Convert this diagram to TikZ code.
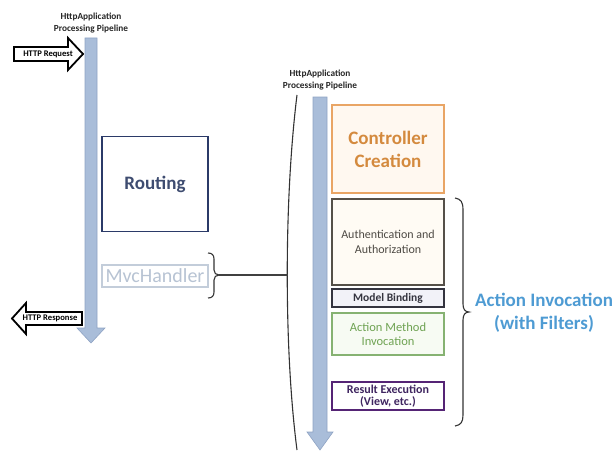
\documentclass[tikz,border=0pt]{standalone}
\usepackage{fontspec}
\setmainfont{Carlito}
\definecolor{pipefill}{HTML}{A9BDD9}
\definecolor{pipeedge}{HTML}{8FA3C3}
\definecolor{routingedge}{HTML}{2B3A68}
\definecolor{routingtext}{HTML}{3E4C70}
\definecolor{mvcedge}{HTML}{C3CDDA}
\definecolor{mvctext}{HTML}{B7C3D3}
\definecolor{ctrledge}{HTML}{E9A565}
\definecolor{ctrlfill}{HTML}{FFF8F0}
\definecolor{ctrltext}{HTML}{D48A3E}
\definecolor{authedge}{HTML}{555048}
\definecolor{authfill}{HTML}{FFFBF4}
\definecolor{authtext}{HTML}{4E4A44}
\definecolor{modeledge}{HTML}{34343F}
\definecolor{modelfill}{HTML}{F2F2F8}
\definecolor{actedge}{HTML}{86B272}
\definecolor{actfill}{HTML}{F7FBF3}
\definecolor{acttext}{HTML}{6FA353}
\definecolor{resedge}{HTML}{552475}
\definecolor{restext}{HTML}{3F2560}
\definecolor{invtext}{HTML}{4E9BD3}
\begin{document}
\begin{tikzpicture}[x=1pt,y=-1pt,
  pipe/.style={fill=pipefill, draw=pipeedge, line width=0.6pt},
  blockarrow/.style={fill=white, draw=black, line width=1.8pt, line join=miter},
  box/.style={draw, line width=1.4pt, minimum width=112pt, align=center, inner sep=1pt},
  pipelabel/.style={font=\bfseries\fontsize{9.3}{12}\selectfont, align=center, text=black!85},
  bracestyle/.style={draw=black!80, line width=1.1pt},
]
\useasboundingbox (0,0) rectangle (616,452);

% left pipeline
\draw[pipe] (85,38) -- (97,38) -- (97,328) -- (105,328) -- (91,343) -- (77,328) -- (85,328) -- cycle;
\node[pipelabel] (lplabel) at (91,23) {HttpApplication\\Processing Pipeline};

% HTTP request / response block arrows
\draw[blockarrow] (14,47) -- (68,47) -- (68,38) -- (83,54) -- (68,70) -- (68,61) -- (14,61) -- cycle;
\node[font=\bfseries\fontsize{8.6}{9}\selectfont, inner sep=0pt] (req) at (48,54) {HTTP Request};
\draw[blockarrow] (82,312) -- (26,312) -- (26,303) -- (12,318.5) -- (26,334) -- (26,325) -- (82,325) -- cycle;
\node[font=\bfseries\fontsize{8.6}{9}\selectfont, inner sep=0pt] (resp) at (50,318.5) {HTTP Response};

% Routing and MvcHandler
\node[box, draw=routingedge, text=routingtext, line width=1.8pt, minimum width=106pt, minimum height=95pt,
      font=\bfseries\fontsize{19}{22}\selectfont] (routing) at (155,184) {Routing};
\node[box, draw=mvcedge, text=mvctext, minimum width=106pt, minimum height=22pt,
      font=\fontsize{20}{22}\selectfont] (mvc) at (155,276) {MvcHandler};

% MvcHandler brace
\draw[bracestyle] (208,253) .. controls (212,253) and (214,255) .. (214,259) -- (214,270)
   .. controls (214,273) and (216,275) .. (219,275)
   .. controls (216,275) and (214,277) .. (214,280) -- (214,292)
   .. controls (214,296) and (212,298) .. (208,298);
\coordinate (mvctip) at (219,275);

% big parenthesis
\draw[bracestyle] (297,95) .. controls (284,200) and (284,350) .. (297,450);
\coordinate (parenmid) at (288,275);
\draw[black!75, line width=1.1pt] (mvctip) -- (parenmid);

% right pipeline
\draw[pipe] (313,97) -- (327,97) -- (327,432) -- (333,432) -- (320,450) -- (307,432) -- (313,432) -- cycle;
\node[pipelabel] (rplabel) at (320,80) {HttpApplication\\Processing Pipeline};

% stage boxes
\node[box, draw=ctrledge, fill=ctrlfill, text=ctrltext, minimum height=88pt,
      font=\bfseries\fontsize{19}{23}\selectfont] (ctrl) at (388,149) {Controller\\Creation};
\node[box, draw=authedge, fill=authfill, text=authtext, minimum height=86pt,
      font=\fontsize{12}{15.5}\selectfont] (auth) at (388,242) {Authentication and\\Authorization};
\node[box, draw=modeledge, fill=modelfill, text=modeledge, minimum height=18pt,
      font=\bfseries\fontsize{11.5}{12}\selectfont] (model) at (388,298) {Model Binding};
\node[box, draw=actedge, fill=actfill, text=acttext, minimum height=42pt,
      font=\fontsize{12.5}{14.5}\selectfont] (act) at (388,334) {Action Method\\Invocation};
\node[box, draw=resedge, fill=white, text=restext, minimum height=28pt,
      font=\bfseries\fontsize{12}{12.5}\selectfont] (res) at (388,396) {Result Execution\\(View, etc.)};

% right brace
\draw[bracestyle] (455,198) .. controls (461,199) and (463,202) .. (463,210) -- (463,304)
   .. controls (463,309) and (465,312) .. (469,312)
   .. controls (465,312) and (463,315) .. (463,320) -- (463,415)
   .. controls (463,422) and (461,425) .. (455,426);
\coordinate (bracetip) at (469,312);
\node[text=invtext, font=\bfseries\fontsize{19}{23}\selectfont, align=center] (inv) at (544,313) {Action Invocation\\(with Filters)};
\end{tikzpicture}
\end{document}
